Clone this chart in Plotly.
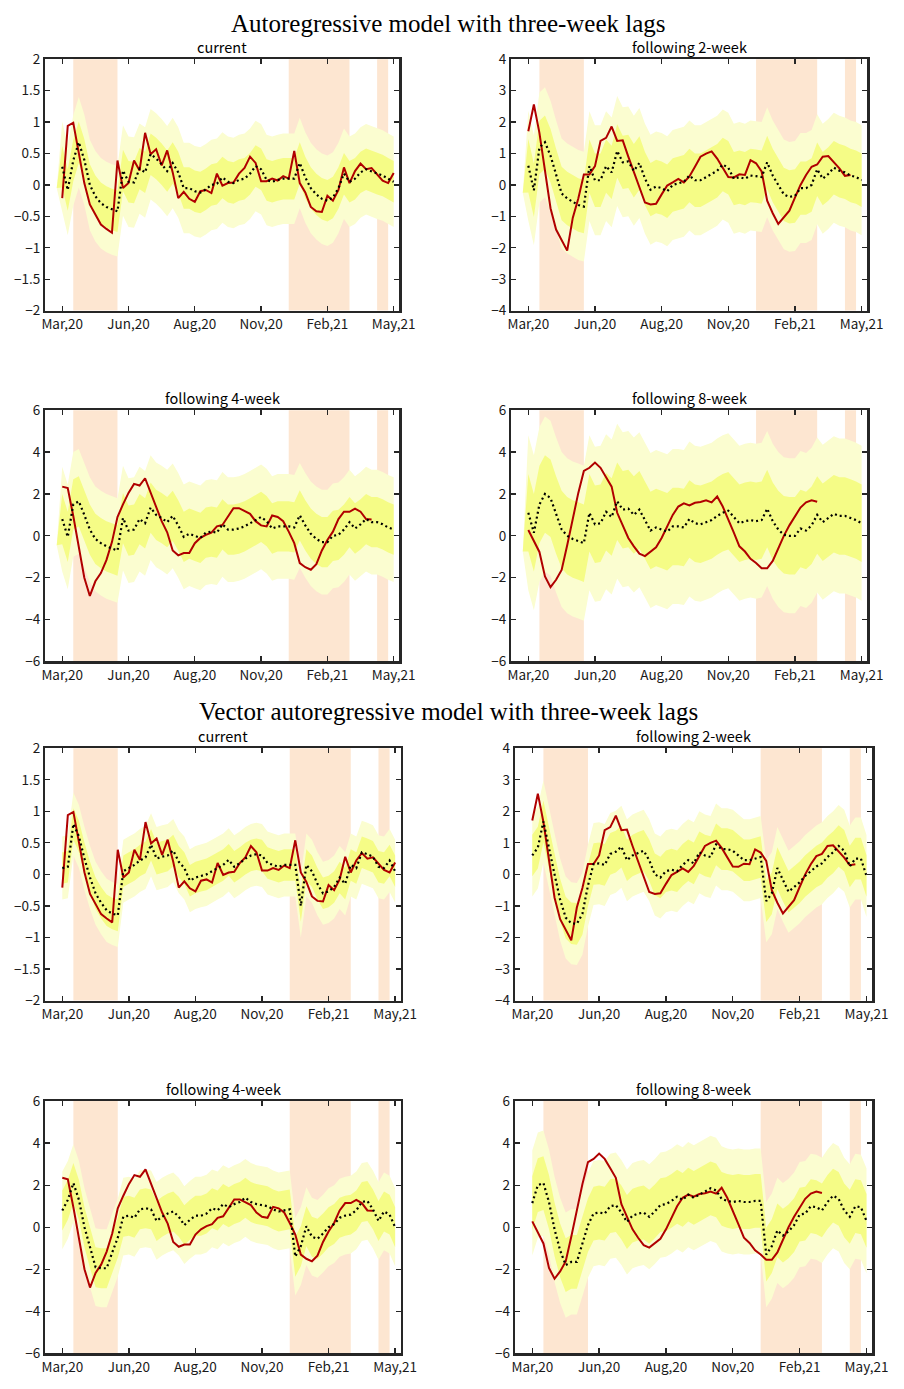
import plotly.graph_objects as go

# ---------------- data ----------------
tick_weeks = [0, 12, 24, 36, 48, 60]
tick_labels = ["Mar,20", "Jun,20", "Aug,20", "Nov,20", "Feb,21", "May,21"]
emergency_periods = [(2, 10), (41, 52), (57, 59)]
horizons = ["current", "following 2-week", "following 4-week", "following 8-week"]
y_limits = [2, 4, 6, 6]
y_steps = [0.5, 1, 2, 2]
section_titles = ["Autoregressive model with three-week lags",
                  "Vector autoregressive model with three-week lags"]

# realized values (red)
actual_current = [-0.21, 0.94, 0.99, 0.52, 0.03, -0.31, -0.47, -0.63, -0.7, -0.76,
                  0.39, -0.05, 0.03, 0.39, 0.23, 0.83, 0.49, 0.57, 0.31, 0.55,
                  0.2, -0.21, -0.11, -0.22, -0.27, -0.1, -0.08, -0.13, 0.18, -0.01,
                  0.03, 0.04, 0.18, 0.27, 0.45, 0.35, 0.06, 0.06, 0.1, 0.07,
                  0.14, 0.1, 0.54, 0.03, -0.12, -0.35, -0.42, -0.43, -0.17, -0.25,
                  -0.08, 0.28, 0.03, 0.22, 0.34, 0.25, 0.27, 0.17, 0.07, 0.03, 0.19]
actual_2wk = [1.71, 2.56, 1.66, 0.46, -0.74, -1.42, -1.75, -2.09, -1.05, -0.43,
              0.33, 0.33, 0.6, 1.4, 1.5, 1.86, 1.4, 1.42, 0.9, 0.43,
              -0.05, -0.56, -0.62, -0.6, -0.3, -0.02, 0.08, 0.19, 0.08, 0.27,
              0.58, 0.9, 1.0, 1.07, 0.84, 0.53, 0.25, 0.24, 0.34, 0.32,
              0.79, 0.69, 0.43, -0.5, -0.9, -1.24, -1.03, -0.82, -0.4, 0.0,
              0.32, 0.58, 0.65, 0.9, 0.92, 0.74, 0.53, 0.29, 0.32]
actual_4wk = [2.35, 2.28, 0.95, -0.6, -2.0, -2.87, -2.17, -1.78, -1.16, -0.3,
              0.9, 1.5, 2.05, 2.48, 2.4, 2.75, 2.05, 1.35, 0.7, 0.17,
              -0.7, -0.93, -0.82, -0.82, -0.35, -0.1, 0.05, 0.15, 0.45, 0.52,
              0.95, 1.32, 1.32, 1.2, 1.05, 0.7, 0.5, 0.45, 0.97, 0.9,
              0.7, 0.2, -0.35, -1.3, -1.5, -1.62, -1.35, -0.7, -0.2, 0.2,
              0.8, 1.15, 1.15, 1.3, 1.15, 0.8, 0.78]
actual_8wk = [0.28, -0.22, -0.77, -1.94, -2.45, -2.1, -1.63, -0.45, 0.8, 2.05,
              3.1, 3.25, 3.5, 3.25, 2.8, 2.35, 1.1, 0.5, -0.1, -0.5,
              -0.85, -0.97, -0.75, -0.55, -0.1, 0.45, 1.0, 1.4, 1.55, 1.45,
              1.58, 1.62, 1.7, 1.6, 1.88, 1.4, 0.8, 0.15, -0.5, -0.75,
              -1.1, -1.3, -1.55, -1.55, -1.2, -0.6, 0.0, 0.5, 0.95, 1.35,
              1.6, 1.7, 1.63]

# AR model forecasts (dotted)
ar_fc_current = [0.29, -0.08, 0.39, 0.68, 0.4, 0.0, -0.18, -0.29, -0.35, -0.39,
                 -0.42, 0.23, 0.05, 0.04, 0.26, 0.2, 0.49, 0.42, 0.33, 0.22,
                 0.35, 0.2, -0.05, -0.05, -0.1, -0.12, -0.07, 0.0, 0.02, 0.12,
                 0.05, 0.03, 0.08, 0.1, 0.18, 0.3, 0.25, 0.08, 0.05, 0.08,
                 0.1, 0.1, 0.1, 0.35, 0.12, -0.05, -0.15, -0.22, -0.25, -0.2,
                 -0.05, 0.18, 0.05, 0.1, 0.2, 0.25, 0.22, 0.18, 0.15, 0.1, 0.05]
ar_fc_2wk = [0.61, -0.17, 1.19, 1.36, 0.93, 0.3, -0.27, -0.43, -0.53, -0.64,
             -0.69, 0.6, 0.15, 0.15, 0.6, 0.4, 1.08, 0.72, 0.75, 0.45,
             0.7, 0.2, -0.15, -0.05, -0.1, -0.2, 0.0, 0.05, 0.1, 0.3,
             0.15, 0.15, 0.25, 0.35, 0.45, 0.65, 0.55, 0.2, 0.25, 0.2,
             0.3, 0.28, 0.25, 0.72, 0.3, 0.0, -0.3, -0.38, -0.35, -0.1,
             -0.1, 0.0, 0.5, 0.2, 0.35, 0.55, 0.45, 0.4, 0.3, 0.25, 0.15]
ar_fc_4wk = [0.8, -0.05, 1.5, 1.65, 1.0, 0.3, -0.15, -0.35, -0.5, -0.6,
             -0.7, 0.85, 0.25, 0.3, 0.8, 0.6, 1.35, 1.0, 0.85, 0.65,
             0.95, 0.5, -0.05, 0.1, 0.0, -0.1, 0.15, 0.2, 0.15, 0.55,
             0.3, 0.3, 0.35, 0.45, 0.6, 0.75, 0.9, 0.7, 0.35, 0.45,
             0.45, 0.45, 0.4, 0.98, 0.5, 0.1, -0.15, -0.3, -0.3, 0.0,
             0.05, 0.3, 0.65, 0.35, 0.55, 0.8, 0.65, 0.65, 0.55, 0.4, 0.3]
ar_fc_8wk = [1.1, 0.15, 1.5, 2.0, 1.8, 1.0, 0.3, 0.0, -0.15, -0.25,
             -0.35, 1.1, 0.55, 0.6, 1.15, 0.9, 1.65, 1.25, 1.3, 1.0,
             1.25, 0.75, 0.25, 0.4, 0.3, 0.2, 0.45, 0.45, 0.4, 0.8,
             0.6, 0.55, 0.65, 0.75, 0.95, 1.1, 1.2, 0.9, 0.6, 0.7,
             0.75, 0.7, 0.75, 1.3, 0.7, 0.3, 0.05, 0.0, 0.0, 0.35,
             0.25, 0.5, 1.0, 0.65, 0.85, 1.05, 0.95, 0.95, 0.85, 0.75, 0.6]

# VAR model forecasts (dotted)
var_fc_current = [0.1, 0.12, 0.8, 0.6, 0.25, -0.05, -0.3, -0.45, -0.57, -0.62,
                  -0.65, 0.05, 0.1, 0.15, 0.22, 0.27, 0.47, 0.25, 0.28, 0.3,
                  0.38, 0.2, 0.1, -0.1, -0.05, -0.02, 0.0, 0.05, 0.1, 0.15,
                  0.23, 0.12, 0.18, 0.25, 0.3, 0.32, 0.3, 0.18, 0.15, 0.12,
                  0.15, 0.15, 0.15, -0.5, 0.15, 0.05, -0.15, -0.3, -0.27, -0.2,
                  -0.05, -0.15, 0.15, 0.1, 0.35, 0.32, 0.28, 0.12, 0.1, 0.22, 0.05]
var_fc_2wk = [0.6, 0.85, 1.68, 0.8, 0.0, -0.8, -1.37, -1.55, -1.57, -1.25,
              -0.35, 0.33, 0.35, 0.3, 0.65, 0.72, 0.88, 0.45, 0.6, 0.68,
              0.75, 0.45, 0.0, -0.1, 0.1, 0.15, 0.1, 0.3, 0.45, 0.35,
              0.7, 0.6, 0.55, 0.95, 0.8, 0.8, 0.75, 0.6, 0.45, 0.45,
              0.5, 0.55, -0.85, -0.6, 0.2, -0.2, -0.55, -0.4, -0.25, -0.05,
              0.1, 0.25, 0.35, 0.55, 0.7, 0.9, 0.75, 0.25, 0.5, 0.5, -0.05]
var_fc_4wk = [0.8, 1.3, 2.1, 1.3, 0.0, -1.0, -1.9, -1.95, -1.95, -1.2,
              -0.5, 0.5, 0.55, 0.45, 0.85, 0.9, 0.85, 0.3, 0.5, 0.65,
              0.75, 0.5, 0.1, 0.35, 0.55, 0.55, 0.65, 0.9, 0.8, 1.1,
              0.95, 1.1, 1.2, 1.4, 1.2, 1.1, 1.05, 1.0, 0.85, 0.75,
              0.8, 0.85, -1.4, -0.9, 0.05, -0.45, -0.55, -0.3, 0.0, 0.15,
              0.45, 0.55, 0.6, 0.8, 1.2, 1.25, 0.85, 0.3, 0.75, 0.6, 0.0]
var_fc_8wk = [1.15, 2.0, 2.1, 1.2, -0.1, -1.1, -1.8, -1.65, -1.65, -0.75,
              0.1, 0.65, 0.7, 0.65, 1.0, 1.05, 0.7, 0.25, 0.55, 0.65,
              0.7, 0.5, 0.75, 1.05, 1.1, 1.25, 1.45, 1.3, 1.55, 1.4,
              1.55, 1.7, 1.85, 1.75, 1.35, 1.25, 1.2, 1.25, 1.2, 1.2,
              1.25, 1.25, -1.3, -0.9, -0.15, -0.4, -0.2, 0.1, 0.6, 0.65,
              1.0, 0.95, 0.8, 1.2, 1.5, 1.35, 0.8, 0.5, 1.0, 0.95, 0.3]

# band half-widths (inner / outer) and the pinched starting value of AR bands
ar_hw_inner = [0.33, 0.85, 1.2, 1.85]
ar_hw_outer = [0.72, 1.75, 2.5, 3.7]
ar_band_start = [-0.05, -0.25, -0.45, -0.75]
var_hw_inner = [0.25, 0.66, 0.95, 1.28]
var_hw_outer = [0.5, 1.3, 1.85, 2.5]

# ---------------- styling ----------------
W, H = 904, 1389
SHADE = "#FDE6D1"
OUTER = "#FBFDD0"
INNER = "#F5FC86"
RED = "#B00000"
FRAME = "#262626"
FONT = "Noto Sans CJK JP"

# panel boxes in pixels: (left, right, top, bottom)
col_x = {0: [(43, 405), (519, 883)], 1: [(43, 406.5), (523, 888)]}
row_y = [(49, 304), (405, 660), (748, 1004), (1106, 1362)]

actuals = [actual_current, actual_2wk, actual_4wk, actual_8wk]
ar_fcs = [ar_fc_current, ar_fc_2wk, ar_fc_4wk, ar_fc_8wk]
var_fcs = [var_fc_current, var_fc_2wk, var_fc_4wk, var_fc_8wk]

fig = go.Figure()
shapes = []
annotations = []
layout_axes = {}

panel = 0
for model in range(2):
    for h in range(4):
        panel += 1
        r = model * 2 + h // 2
        c = h % 2
        left, right = col_x[model][c]
        top, bottom = row_y[r]
        xname = "x" if panel == 1 else f"x{panel}"
        yname = "y" if panel == 1 else f"y{panel}"
        xkey = "xaxis" if panel == 1 else f"xaxis{panel}"
        ykey = "yaxis" if panel == 1 else f"yaxis{panel}"
        lim = y_limits[h]

        layout_axes[xkey] = dict(
            domain=[left / W, right / W], anchor=yname, range=[-3.1, 61.05],
            tickvals=tick_weeks, ticktext=tick_labels, ticks="inside", ticklen=5,
            tickwidth=1.3, tickcolor=FRAME, showline=True, linewidth=2.2,
            linecolor=FRAME, mirror="ticks", showgrid=False, zeroline=False,
            tickfont=dict(family=FONT, size=13.5, color="#1a1a1a"), fixedrange=True)
        layout_axes[ykey] = dict(
            domain=[1 - bottom / H, 1 - top / H], anchor=xname, range=[-lim, lim],
            tick0=-lim, dtick=y_steps[h], ticks="inside", ticklen=5,
            tickwidth=1.3, tickcolor=FRAME, showline=True, linewidth=2.2,
            linecolor=FRAME, mirror="ticks", showgrid=False, zeroline=False,
            tickfont=dict(family=FONT, size=13.5, color="#1a1a1a"), fixedrange=True)

        # emergency shading
        for (a, b) in emergency_periods:
            shapes.append(dict(type="rect", xref=xname, yref=f"{yname} domain",
                               x0=a, x1=b, y0=0, y1=1, fillcolor=SHADE,
                               line=dict(width=0), layer="below"))

        # forecast bands
        if model == 0:
            fc = ar_fcs[h]
            xs = [-1] + list(range(len(fc)))
            hw_in, hw_out = ar_hw_inner[h], ar_hw_outer[h]
            s0 = ar_band_start[h]
            up_o = [s0] + [v + hw_out for v in fc]
            lo_o = [s0] + [v - hw_out for v in fc]
            up_i = [s0] + [v + hw_in for v in fc]
            lo_i = [s0] + [v - hw_in for v in fc]
        else:
            fc = var_fcs[h]
            xs = list(range(len(fc)))
            hw_in, hw_out = var_hw_inner[h], var_hw_outer[h]
            up_o = [v + hw_out for v in fc]
            lo_o = [v - hw_out for v in fc]
            up_i = [v + hw_in for v in fc]
            lo_i = [v - hw_in for v in fc]

        for up, lo, col in [(up_o, lo_o, OUTER), (up_i, lo_i, INNER)]:
            fig.add_trace(go.Scatter(
                x=xs + xs[::-1], y=up + lo[::-1], fill="toself", fillcolor=col,
                mode="lines", line=dict(width=0, color=col), hoverinfo="skip",
                showlegend=False, xaxis=xname, yaxis=yname))

        act = actuals[h]
        fig.add_trace(go.Scatter(
            x=list(range(len(act))), y=act, mode="lines",
            line=dict(color=RED, width=2), showlegend=False,
            xaxis=xname, yaxis=yname))
        fig.add_trace(go.Scatter(
            x=list(range(len(fc))), y=fc, mode="lines",
            line=dict(color="black", width=2.2, dash="2px,3px"), showlegend=False,
            xaxis=xname, yaxis=yname))

        annotations.append(dict(
            text=horizons[h], x=(left + right) / 2 / W, y=1 - top / H,
            xref="paper", yref="paper", xanchor="center", yanchor="bottom",
            yshift=0, showarrow=False,
            font=dict(family=FONT, size=14.5, color="black")))

for i, (title, ypx) in enumerate(zip(section_titles, [13, 711])):
    annotations.append(dict(
        text=title, x=455 / W, y=1 - ypx / H, xref="paper", yref="paper",
        xanchor="center", yanchor="middle", showarrow=False,
        font=dict(family="Liberation Serif", size=25, color="black")))

fig.update_layout(
    width=W, height=H, autosize=False,
    margin=dict(l=0, r=0, t=0, b=0),
    paper_bgcolor="white", plot_bgcolor="white",
    shapes=shapes, annotations=annotations, showlegend=False,
    **layout_axes)

page_fix = ("document.documentElement.style.margin='0';"
            "document.body.style.margin='0';document.body.style.padding='0';"
            "document.documentElement.style.overflow='hidden';"
            "document.body.style.overflow='hidden';"
            "var gd=document.getElementById('{plot_id}');"
            "gd.style.position='absolute';gd.style.left='0px';gd.style.top='0px';")

fig.write_html("out.html", post_script=page_fix,
               config={"displayModeBar": False, "staticPlot": True})
